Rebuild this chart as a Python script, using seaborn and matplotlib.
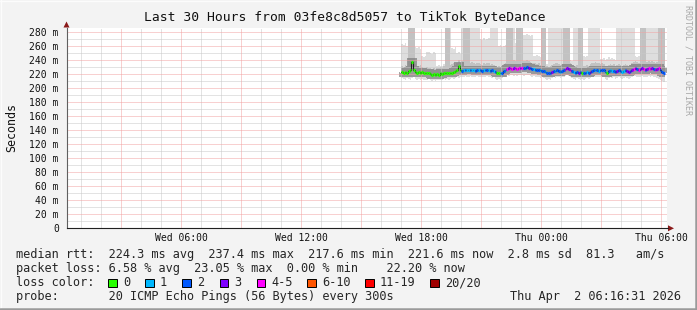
import numpy as np
import pandas as pd
import matplotlib
matplotlib.use("Agg")
import matplotlib.pyplot as plt
import matplotlib.dates as mdates
from matplotlib.ticker import MultipleLocator, FuncFormatter
from matplotlib.patches import Rectangle, Polygon
from matplotlib.lines import Line2D
import seaborn as sns

# ---------------- data ----------------
title = "Last 30 Hours from 03fe8c8d5057 to TikTok ByteDance"
window_start = "2026-04-01 00:16:31"
window_end = "2026-04-02 06:16:31"
data_start = "2026-04-01 17:00"
step = "5min"

# median RTT (ms) per 5-minute step
median = [
    223, 222, 223, 222, 224, 225, 237, 226, 223, 222,
    223, 222, 223, 222, 221, 222, 221, 220, 219, 220,
    218, 220, 219, 221, 220, 221, 222, 221, 222, 221,
    222, 223, 224, 225, 232, 225, 224, 225, 226, 225,
    226, 225, 226, 225, 224, 225, 226, 225, 224, 225,
    225, 226, 225, 224, 225, 224, 223, 221, 222, 221,
    222, 224, 225, 227, 228, 228, 227, 229, 228, 227,
    228, 229, 228, 228, 229, 230, 229, 228, 227, 227,
    226, 225, 226, 225, 224, 224, 223, 222, 221, 222,
    223, 224, 224, 225, 224, 223, 224, 225, 227, 228,
    227, 226, 224, 223, 222, 223, 222, 223, 222, 221,
    222, 223, 222, 223, 224, 225, 226, 225, 224, 225,
    226, 225, 223, 222, 224, 225, 224, 224, 223, 224,
    225, 224, 223, 224, 225, 224, 223, 224, 226, 227,
    228, 227, 226, 227, 228, 227, 226, 227, 228, 227,
    228, 227, 226, 227, 228, 226, 223, 221,
]

# lost pings out of 20 per step
loss = [
    0, 0, 0, 0, 0, 0, 0, 0, 0, 0,
    0, 0, 0, 0, 0, 0, 0, 0, 0, 0,
    0, 0, 0, 0, 0, 0, 0, 0, 0, 0,
    0, 0, 0, 0, 0, 0, 2, 1, 2, 1,
    1, 2, 1, 1, 2, 2, 1, 2, 2, 1,
    2, 2, 1, 2, 2, 1, 2, 0, 0, 1,
    2, 2, 1, 4, 3, 4, 4, 3, 4, 5,
    4, 3, 4, 2, 2, 2, 3, 2, 2, 1,
    2, 2, 2, 1, 2, 2, 1, 2, 2, 2,
    3, 2, 1, 2, 2, 1, 2, 2, 4, 3,
    3, 4, 2, 1, 2, 2, 3, 2, 0, 2,
    2, 1, 2, 3, 2, 2, 1, 2, 1, 2,
    2, 2, 1, 0, 2, 1, 1, 2, 2, 3,
    2, 2, 1, 1, 2, 3, 3, 2, 3, 4,
    3, 2, 4, 3, 3, 4, 2, 3, 4, 4,
    3, 2, 4, 3, 4, 2, 2, 2,
]

# smoke: fastest ping, upper edge of the dense part, slowest ping (ms)
smoke_min = [
    214, 213, 212, 214, 213, 212, 214, 215, 213, 212,
    213, 212, 213, 212, 211, 212, 213, 211, 210, 212,
    210, 211, 212, 211, 212, 213, 212, 213, 212, 213,
    214, 213, 214, 215, 214, 216, 215, 216, 217, 216,
    216, 217, 216, 215, 216, 217, 216, 215, 216, 215,
    216, 217, 216, 215, 214, 215, 213, 212, 213, 212,
    214, 215, 216, 218, 217, 219, 218, 217, 218, 217,
    218, 219, 218, 217, 218, 219, 218, 217, 216, 217,
    216, 215, 216, 214, 215, 214, 213, 212, 213, 212,
    214, 215, 214, 216, 215, 214, 215, 216, 217, 218,
    217, 216, 214, 213, 212, 214, 213, 212, 213, 212,
    213, 214, 213, 214, 215, 216, 215, 216, 215, 216,
    216, 215, 213, 212, 214, 215, 214, 215, 213, 214,
    215, 214, 213, 214, 215, 214, 213, 214, 216, 217,
    217, 216, 215, 216, 217, 216, 215, 216, 217, 216,
    217, 216, 215, 214, 213, 212, 210, 209,
]

smoke_mid = [
    232, 230, 233, 231, 290, 290, 290, 290, 234, 232,
    231, 233, 230, 229, 228, 230, 229, 228, 227, 229,
    227, 228, 229, 230, 229, 232, 290, 290, 290, 233,
    234, 235, 233, 236, 240, 236, 238, 290, 290, 290,
    290, 236, 237, 235, 234, 236, 235, 234, 233, 235,
    234, 236, 235, 233, 234, 233, 232, 230, 231, 230,
    232, 234, 236, 290, 290, 290, 290, 240, 238, 290,
    290, 290, 290, 238, 239, 240, 238, 237, 236, 235,
    235, 234, 235, 233, 290, 290, 290, 231, 230, 232,
    233, 234, 235, 236, 234, 233, 234, 290, 290, 290,
    290, 235, 233, 232, 231, 233, 290, 290, 290, 231,
    232, 233, 232, 234, 235, 236, 237, 236, 235, 234,
    235, 234, 232, 231, 233, 234, 233, 234, 232, 233,
    234, 233, 232, 233, 234, 233, 232, 233, 236, 237,
    238, 237, 236, 290, 290, 290, 290, 237, 238, 237,
    238, 237, 236, 237, 290, 290, 290, 290,
]

smoke_max = [
    263, 262, 264, 260, 290, 290, 290, 290, 258, 257,
    259, 256, 245, 244, 246, 251, 252, 250, 249, 251,
    250, 232, 233, 231, 232, 234, 290, 290, 290, 290,
    257, 256, 258, 250, 251, 249, 290, 290, 290, 290,
    290, 290, 290, 290, 290, 290, 290, 270, 268, 271,
    269, 270, 272, 290, 290, 290, 290, 290, 260, 261,
    259, 260, 262, 290, 290, 290, 290, 290, 264, 290,
    290, 290, 290, 276, 275, 277, 276, 274, 276, 246,
    245, 247, 246, 244, 290, 290, 290, 234, 290, 290,
    290, 290, 290, 290, 290, 290, 290, 290, 290, 290,
    290, 240, 239, 290, 290, 290, 290, 290, 290, 245,
    244, 246, 290, 290, 290, 290, 290, 290, 290, 242,
    241, 243, 240, 242, 244, 241, 243, 242, 240, 290,
    290, 290, 290, 290, 290, 290, 290, 290, 290, 290,
    245, 244, 246, 290, 290, 290, 290, 290, 290, 290,
    290, 290, 290, 290, 290, 290, 290, 290,
]

loss_labels = ["0", "1", "2", "3", "4-5", "6-10", "11-19", "20/20"]
loss_colors = ["#26ff00", "#00b8ff", "#0059ff", "#7e00ff", "#ff00ff",
               "#ff5500", "#ff0000", "#a00000"]

legend_rtt = "median rtt:  224.3 ms avg  237.4 ms max  217.6 ms min  221.6 ms now  2.8 ms sd  81.3   am/s"
legend_loss = "packet loss: 6.58 % avg  23.05 % max  0.00 % min    22.20 % now"
legend_color_head = "loss color:"
probe_text = "probe:       20 ICMP Echo Pings (56 Bytes) every 300s"
stamp_text = "Thu Apr  2 06:16:31 2026"

# ---------------- figure ----------------
W, H = 697, 310
sns.set_style("white")
plt.rcParams["font.family"] = ["DejaVu Sans Mono", "DejaVu Sans"]

fig = plt.figure(figsize=(W / 100, H / 100), dpi=100, facecolor="#f3f3f3")

def fx(px):
    return px / W

def fy(py):
    return 1 - py / H

ax_left, ax_right, ax_top, ax_bottom = 66.5, 667.0, 27.7, 228.3
ax = fig.add_axes([fx(ax_left), fy(ax_bottom), fx(ax_right - ax_left),
                   (ax_bottom - ax_top) / H])
ax.set_facecolor("white")

times = pd.date_range(data_start, periods=len(median), freq=step)
tnum = mdates.date2num(times.to_pydatetime())
dt = tnum[1] - tnum[0]
edges = np.append(tnum, tnum[-1] + dt)

med = np.asarray(median, float)
lo = np.asarray(smoke_min, float)
mid = np.asarray(smoke_mid, float)
hi = np.asarray(smoke_max, float)

# smoke
ax.stairs(hi, edges, baseline=lo, fill=True, color="#dedede", lw=0, zorder=1)
ax.stairs(mid, edges, baseline=med, fill=True, color="#c2c2c2", lw=0, zorder=1.1)
ax.stairs(med, edges, baseline=med, fill=False, color="#7c7c7c",
          lw=5.5, alpha=0.7, zorder=1.2)

# black median step line (seaborn)
sns.lineplot(x=tnum, y=med, drawstyle="steps-post", color="#202020", lw=0.8,
             ax=ax, zorder=1.5)

def loss_class(n):
    if n <= 3:
        return n
    if n <= 5:
        return 4
    if n <= 10:
        return 5
    if n <= 19:
        return 6
    return 7

seg_colors = [loss_colors[loss_class(n)] for n in loss]
ax.hlines(med, tnum, tnum + dt, colors=seg_colors, lw=2.3, zorder=1.6)

# axes ranges
ax.set_xlim(mdates.date2num(pd.Timestamp(window_start)),
            mdates.date2num(pd.Timestamp(window_end)))
ax.set_ylim(0, 286)

ax.yaxis.set_major_locator(MultipleLocator(20))
ax.yaxis.set_minor_locator(MultipleLocator(10))
ax.yaxis.set_major_formatter(FuncFormatter(lambda v, p: "0" if v == 0 else f"{int(v)} m"))

ax.xaxis.set_major_locator(mdates.HourLocator(byhour=range(0, 24, 3)))
ax.xaxis.set_minor_locator(mdates.HourLocator())

def xfmt(v, p):
    d = mdates.num2date(v)
    if d.hour % 6 == 0:
        return d.strftime("%a %H:%M")
    return ""

ax.xaxis.set_major_formatter(FuncFormatter(xfmt))

# dotted grid over the smoke, under the median line
ax.grid(False)
x0, x1 = ax.get_xlim()
minor_h = [v for v in ax.yaxis.get_minorticklocs() if 0 < v < 286]
major_h = [v for v in ax.get_yticks() if 0 < v < 286]
minor_v = [v for v in ax.xaxis.get_minorticklocs() if x0 < v < x1]
major_v = [v for v in ax.get_xticks() if x0 < v < x1]
for v in minor_h:
    ax.axhline(v, color="#c8c8c8", lw=0.72, ls=(0, (1, 1)), zorder=1.3, snap=True)
for v in minor_v:
    ax.axvline(v, color="#c8c8c8", lw=0.72, ls=(0, (1, 1)), zorder=1.3, snap=True)
for v in major_h:
    ax.axhline(v, color="#f2a2a2", lw=0.72, ls=(0, (1, 1)), zorder=1.31, snap=True)
for v in major_v:
    ax.axvline(v, color="#f2a2a2", lw=0.72, ls=(0, (1, 1)), zorder=1.31, snap=True)

ax.set_xlabel("")
ax.set_ylabel("")
for s in ["top", "right"]:
    ax.spines[s].set_visible(False)
ax.spines["left"].set_color("#606060")
ax.spines["left"].set_linewidth(0.8)
ax.spines["bottom"].set_color("#202020")
ax.spines["bottom"].set_linewidth(0.8)

ax.tick_params(axis="both", which="major", length=2.5, width=0.6, color="#606060",
               labelsize=7, labelcolor="#111111", direction="out", pad=3)
ax.tick_params(axis="x", which="major", pad=1.2)
ax.tick_params(axis="both", which="minor", length=1.5, width=0.6, color="#909090",
               direction="out")

# arrows at the axis ends
fig.patches.append(Polygon([(fx(63.5), fy(27.5)), (fx(69.5), fy(27.5)), (fx(66.5), fy(21.5))],
                           closed=True, transform=fig.transFigure,
                           facecolor="#8b1a1a", edgecolor="none"))
fig.patches.append(Polygon([(fx(668), fy(225.3)), (fx(668), fy(231.3)), (fx(674), fy(228.3))],
                           closed=True, transform=fig.transFigure,
                           facecolor="#8b1a1a", edgecolor="none"))
fig.lines.append(Line2D([fx(ax_right), fx(668)], [fy(ax_bottom), fy(ax_bottom)],
                        transform=fig.transFigure, color="#202020", lw=0.8))

# title and labels
fig.text(fx(345), fy(18), title, ha="center", va="center", fontsize=9.4,
         color="#111111")
fig.text(fx(11.5), fy(127), "Seconds", rotation=90, ha="center", va="center",
         fontsize=8.4, color="#111111")
fig.text(fx(688), fy(5), "RRDTOOL / TOBI OETIKER", rotation=-90, ha="center",
         va="top", fontsize=6, color="#a8a8a8")

# legend rows
lfs = 8.55
row1, row2, row3, row4 = 254.5, 268.5, 282.5, 296.5
fig.text(fx(15.5), fy(row1), legend_rtt, va="center", fontsize=lfs)
fig.text(fx(15.5), fy(row2), legend_loss, va="center", fontsize=lfs)
fig.text(fx(15.5), fy(row3), legend_color_head, va="center", fontsize=lfs)
box_x = [108, 145, 182, 219.5, 256.5, 307, 365, 430]
for bx, c, s in zip(box_x, loss_colors, loss_labels):
    fig.patches.append(Rectangle((fx(bx), fy(row3 + 4.5)), fx(8.5), 8.5 / H,
                                 transform=fig.transFigure, facecolor=c,
                                 edgecolor="#000000", lw=0.7))
    fig.text(fx(bx + 15), fy(row3), s, va="center", fontsize=lfs)
fig.text(fx(15.5), fy(row4), probe_text, va="center", fontsize=lfs)
fig.text(fx(681), fy(row4), stamp_text, va="center", ha="right", fontsize=lfs)

# 3D-ish frame around the image
fig.lines.append(Line2D([0, 1], [fy(0.5), fy(0.5)], transform=fig.transFigure,
                        color="#fcfcfc", lw=1.0))
fig.lines.append(Line2D([fx(0.5), fx(0.5)], [0, 1], transform=fig.transFigure,
                        color="#fcfcfc", lw=1.0))
fig.lines.append(Line2D([0, 1], [fy(H - 1.2), fy(H - 1.2)], transform=fig.transFigure,
                        color="#9a9a9a", lw=1.8))
fig.lines.append(Line2D([fx(W - 1.2), fx(W - 1.2)], [0, 1], transform=fig.transFigure,
                        color="#9a9a9a", lw=1.8))

fig.savefig("out.png", dpi=100, facecolor=fig.get_facecolor())
